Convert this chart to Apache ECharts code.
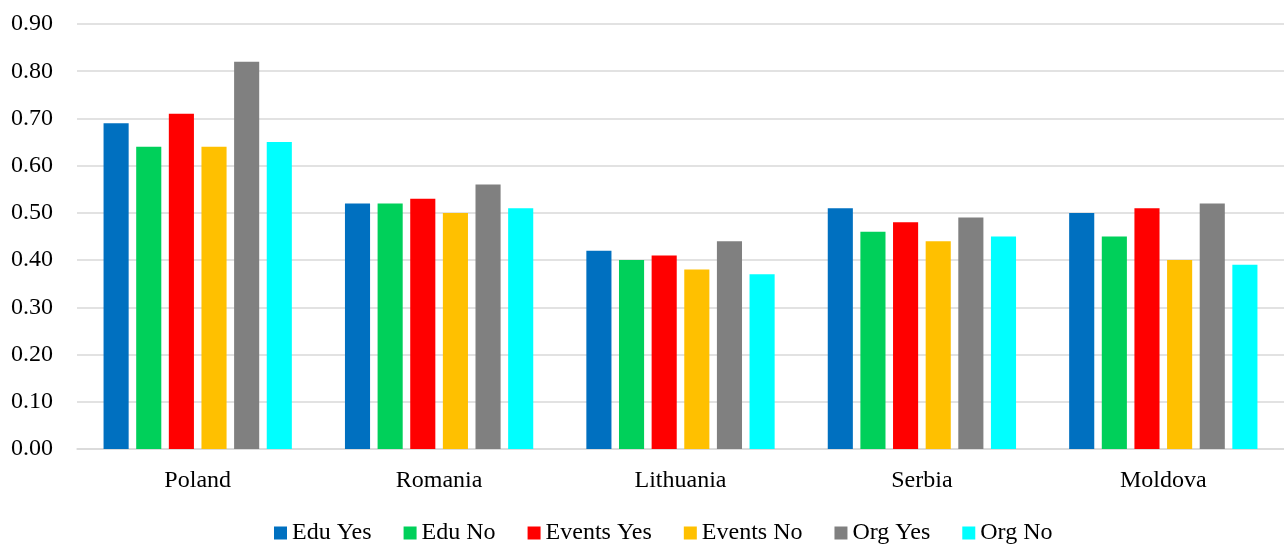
<!DOCTYPE html>
<html><head><meta charset="utf-8">
<script src="https://cdn.jsdelivr.net/npm/echarts@6/dist/echarts.min.js"></script>
<style>html,body{margin:0;padding:0;background:#fff}#c{width:1284px;height:545px}</style>
</head><body><div id="c"></div>
<script>
const categories = ["Poland", "Romania", "Lithuania", "Serbia", "Moldova"];
const seriesNames = ["Edu Yes", "Edu No", "Events Yes", "Events No", "Org Yes", "Org No"];
const eduYes = [0.69, 0.52, 0.42, 0.51, 0.50];
const eduNo = [0.64, 0.52, 0.40, 0.46, 0.45];
const eventsYes = [0.71, 0.53, 0.41, 0.48, 0.51];
const eventsNo = [0.64, 0.50, 0.38, 0.44, 0.40];
const orgYes = [0.82, 0.56, 0.44, 0.49, 0.52];
const orgNo = [0.65, 0.51, 0.37, 0.45, 0.39];
const colors = ["#0070C0", "#00D05A", "#FF0000", "#FFC000", "#808080", "#00FFFF"];
const values = [eduYes, eduNo, eventsYes, eventsNo, orgYes, orgNo];

const font = "'Liberation Serif', 'Times New Roman', serif";
const chart = echarts.init(document.getElementById('c'), null, {renderer: 'canvas'});
chart.setOption({
  animation: false,
  color: colors,
  textStyle: {fontFamily: font},
  grid: {left: 77, right: 0, top: 24, bottom: 96, containLabel: false},
  legend: {
    top: 516, left: 269,
    itemWidth: 13, itemHeight: 13, itemGap: 32,
    icon: 'rect',
    textStyle: {fontFamily: font, fontSize: 24, color: '#000'},
    data: seriesNames
  },
  xAxis: {
    type: 'category', data: categories,
    axisLine: {lineStyle: {color: '#d9d9d9', width: 1.5}},
    axisTick: {show: false},
    axisLabel: {fontFamily: font, fontSize: 24, color: '#000', margin: 20}
  },
  yAxis: {
    type: 'value', min: 0, max: 0.9, interval: 0.1,
    axisLine: {show: false}, axisTick: {show: false},
    splitLine: {lineStyle: {color: '#d9d9d9', width: 1.5}},
    axisLabel: {fontFamily: font, fontSize: 24, color: '#000', margin: 24,
      formatter: v => v.toFixed(2)}
  },
  series: seriesNames.map((n, i) => ({
    name: n, type: 'bar', data: values[i],
    barGap: '30%', barCategoryGap: '22%',
    itemStyle: {color: colors[i]}
  }))
});
</script></body></html>
